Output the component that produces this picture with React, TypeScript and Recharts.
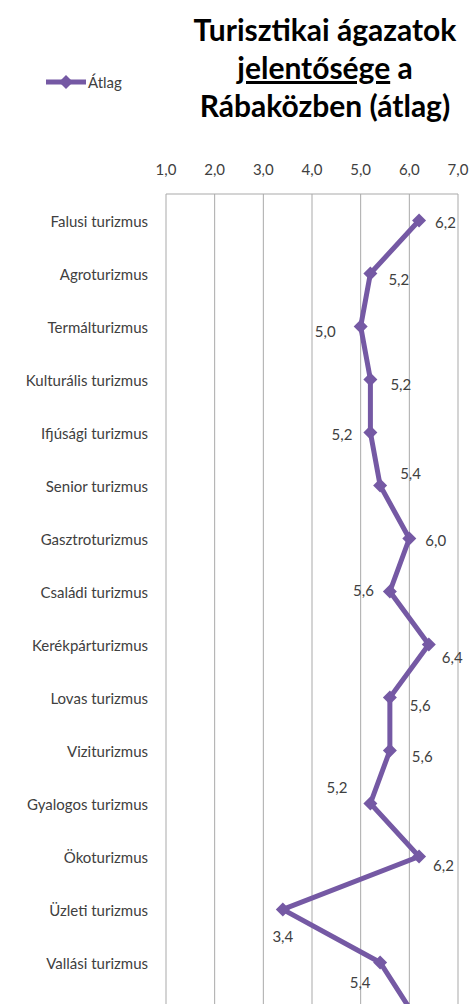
import { LineChart, Line, XAxis, YAxis, CartesianGrid, LabelList } from 'recharts';

const CATEGORIES = [
  'Falusi turizmus',
  'Agroturizmus',
  'Termálturizmus',
  'Kulturális turizmus',
  'Ifjúsági turizmus',
  'Senior turizmus',
  'Gasztroturizmus',
  'Családi turizmus',
  'Kerékpárturizmus',
  'Lovas turizmus',
  'Viziturizmus',
  'Gyalogos turizmus',
  'Ökoturizmus',
  'Üzleti turizmus',
  'Vallási turizmus',
  'Egészségturizmus', // below the visible area, only its incoming segment shows
];

const AVERAGES = [6.2, 5.2, 5.0, 5.2, 5.2, 5.4, 6.0, 5.6, 6.4, 5.6, 5.6, 5.2, 6.2, 3.4, 5.4, 6.1];

const X_TICKS = [1, 2, 3, 4, 5, 6, 7];

const SERIES_NAME = 'Átlag';

// where Excel put each data label relative to its point
const LABEL_OFFSETS: { dx: number; dy: number; anchor: 'start' | 'end' | 'middle' }[] = [
  { dx: 16, dy: 1, anchor: 'start' },
  { dx: 18, dy: 5, anchor: 'start' },
  { dx: -25, dy: 4, anchor: 'end' },
  { dx: 20, dy: 4, anchor: 'start' },
  { dx: -18, dy: 1, anchor: 'end' },
  { dx: 20, dy: -13, anchor: 'start' },
  { dx: 16, dy: 1, anchor: 'start' },
  { dx: -16, dy: -2, anchor: 'end' },
  { dx: 13, dy: 12, anchor: 'start' },
  { dx: 20, dy: 7, anchor: 'start' },
  { dx: 22, dy: 5, anchor: 'start' },
  { dx: -23, dy: -17, anchor: 'end' },
  { dx: 14, dy: 8, anchor: 'start' },
  { dx: 0, dy: 26, anchor: 'middle' },
  { dx: -20, dy: 19, anchor: 'middle' },
  { dx: 16, dy: 1, anchor: 'start' },
];

const PURPLE = '#7559a4';
const TEXT = '#404040';
const GRID = '#a9a9a9';
const FONT = 'Lato, "Open Sans", sans-serif';
const VISIBLE_H = 1004;

const fmt = (v: number) => v.toFixed(1).replace('.', ',');

const chartData = CATEGORIES.map((name, i) => ({ name, avg: AVERAGES[i] }));

const Diamond = (props: any) => {
  const { cx, cy, index } = props;
  if (cx == null || cy == null) return null;
  const r = 7;
  return (
    <path
      key={`d-${index}`}
      d={`M${cx},${cy - r} L${cx + r},${cy} L${cx},${cy + r} L${cx - r},${cy} Z`}
      fill={PURPLE}
    />
  );
};

const renderLabel = (props: any) => {
  const { x, y, value, index } = props;
  const o = LABEL_OFFSETS[index] ?? { dx: 16, dy: 0, anchor: 'start' };
  // the page is cut below the visible frame, skip text that would fall off it
  if (y + o.dy > VISIBLE_H - 8) return null;
  return (
    <text
      key={`l-${index}`}
      x={x + o.dx}
      y={y + o.dy}
      textAnchor={o.anchor}
      dominantBaseline="central"
      fontSize={15}
      fontFamily={FONT}
      fill={TEXT}
    >
      {fmt(Number(value))}
    </text>
  );
};

const CategoryTick = (props: any) => {
  const { x, y, payload } = props;
  if (y > VISIBLE_H - 8) return null;
  return (
    <text x={x} y={y} textAnchor="end" dominantBaseline="central" fontSize={15} fontFamily={FONT} fill={TEXT}>
      {payload.value}
    </text>
  );
};

export default function App() {
  return (
    <div
      style={{
        position: 'relative',
        width: 470,
        height: VISIBLE_H,
        overflow: 'hidden',
        background: '#fff',
        fontFamily: FONT,
      }}
    >
      <style>{'html,body{margin:0;padding:0;overflow:hidden}'}</style>
      <div
        style={{
          position: 'absolute',
          left: 180,
          width: 290,
          top: 10,
          textAlign: 'center',
          fontWeight: 700,
          fontSize: 30,
          lineHeight: '38px',
          color: '#000',
        }}
      >
        Turisztikai ágazatok
        <br />
        <span style={{ textDecoration: 'underline' }}>jelentősége</span> a
        <br />
        Rábaközben (átlag)
      </div>

      <div style={{ position: 'absolute', left: 46, top: 73, display: 'flex', alignItems: 'center' }}>
        <svg width={40} height={18}>
          <line x1={0} y1={9} x2={40} y2={9} stroke={PURPLE} strokeWidth={5} />
          <path d="M20,2 L27,9 L20,16 L13,9 Z" fill={PURPLE} />
        </svg>
        <span style={{ fontSize: 15, color: TEXT, marginLeft: 2 }}>{SERIES_NAME}</span>
      </div>

      <div style={{ position: 'absolute', left: 0, top: 0 }}>
        <LineChart
          width={470}
          height={1052}
          data={chartData}
          layout="vertical"
          margin={{ top: 164, right: 12, bottom: 10, left: 0 }}
        >
          <CartesianGrid horizontal={false} stroke={GRID} />
          <XAxis
            type="number"
            orientation="top"
            domain={[1, 7]}
            ticks={X_TICKS}
            tickFormatter={fmt}
            height={30}
            tickLine={false}
            tickSize={0}
            tickMargin={19}
            axisLine={{ stroke: GRID }}
            tick={{ fill: TEXT, fontSize: 15, fontFamily: FONT }}
            interval={0}
          />
          <YAxis
            type="category"
            dataKey="name"
            width={166}
            axisLine={false}
            tickLine={false}
            tickSize={0}
            tickMargin={18}
            padding={{ top: 26.5, bottom: 26.5 }}
            interval={0}
            tick={<CategoryTick />}
          />
          <Line
            dataKey="avg"
            name={SERIES_NAME}
            stroke={PURPLE}
            strokeWidth={5}
            dot={<Diamond />}
            activeDot={false}
            isAnimationActive={false}
          >
            <LabelList dataKey="avg" content={renderLabel} />
          </Line>
        </LineChart>
      </div>
    </div>
  );
}
